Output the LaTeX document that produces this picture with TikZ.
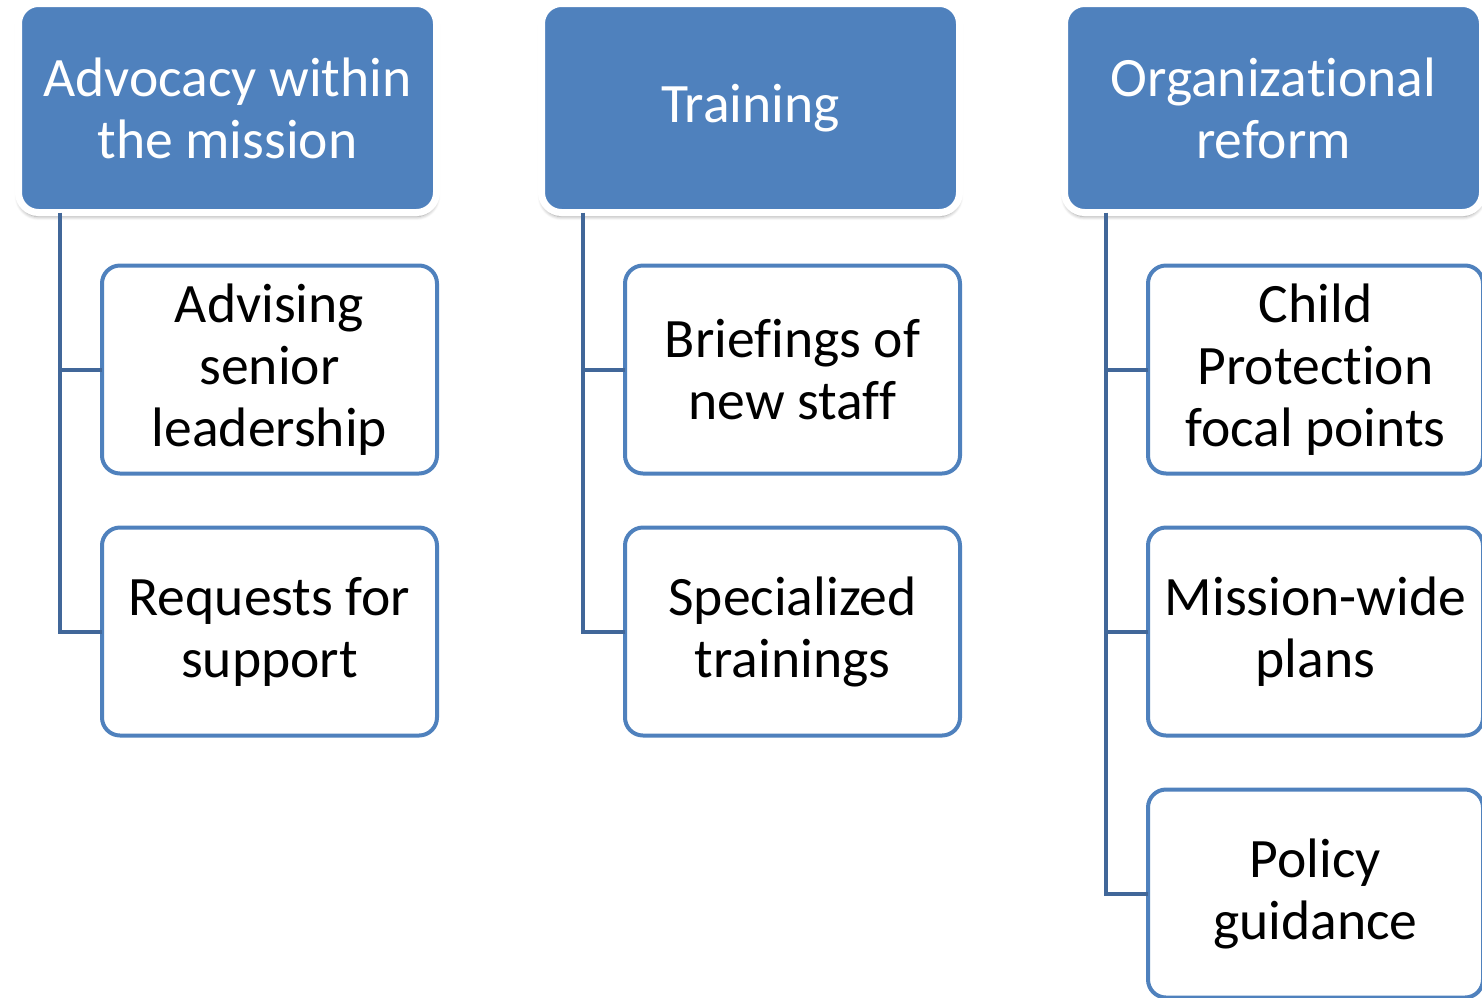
\documentclass[tikz,border=0pt]{standalone}
\usepackage{fontspec}
\setmainfont[Ligatures={NoCommon}]{Carlito}
\usetikzlibrary{shadows.blur}

\definecolor{hdrblue}{RGB}{79,129,189}
\definecolor{linkblue}{RGB}{65,103,153}

\tikzset{
  hdr/.style={rectangle, rounded corners=10pt, fill=hdrblue, draw=white,
    line width=3.5pt, minimum width=209pt, minimum height=104.5pt,
    inner sep=0pt, outer sep=0pt, text=white, align=center,
    font=\fontsize{27.8}{31}\selectfont,
    blur shadow={shadow xshift=0pt, shadow yshift=-2pt,
      shadow blur steps=6, shadow opacity=40}},
  item/.style={rectangle, rounded corners=9pt, fill=white, draw=hdrblue,
    line width=2pt, minimum width=167.5pt, minimum height=104pt,
    inner sep=0pt, outer sep=0pt, align=center,
    font=\fontsize{27.8}{31}\selectfont},
  link/.style={draw=linkblue, line width=2pt}
}

\begin{document}
\begin{tikzpicture}[x=0.5pt, y=-0.5pt]
\useasboundingbox (0,0) rectangle (1482,997);

% en tete
\node[hdr] (adv) at (227.5,108) {Advocacy within\\the mission};
\node[hdr] (trn) at (750.5,108) {Training};
\node[hdr] (org) at (1273.5,108) {Organizational\\reform};

% colonne 1
\node[item] (adv1) at (269.5,369.5) {Advising\\senior\\leadership};
\node[item] (adv2) at (269.5,631.5) {Requests for\\support};

% colonne 2
\node[item] (trn1) at (792.5,369.5) {Briefings of\\new staff};
\node[item] (trn2) at (792.5,631.5) {Specialized\\trainings};

% colonne 3
\node[item] (org1) at (1315.5,369.5) {Child\\Protection\\focal points};
\node[item] (org2) at (1315.5,631.5) {Mission-wide\\plans};
\node[item] (org3) at (1315.5,893.5) {Policy\\guidance};

% liens
\foreach \h in {adv,trn,org}
  \coordinate (\h-top) at ([xshift=20.75pt]\h.south west);

\draw[link] (adv-top) |- (adv1.west) (adv-top) |- (adv2.west);
\draw[link] (trn-top) |- (trn1.west) (trn-top) |- (trn2.west);
\draw[link] (org-top) |- (org1.west) (org-top) |- (org2.west)
  (org-top) |- (org3.west);

\end{tikzpicture}
\end{document}
